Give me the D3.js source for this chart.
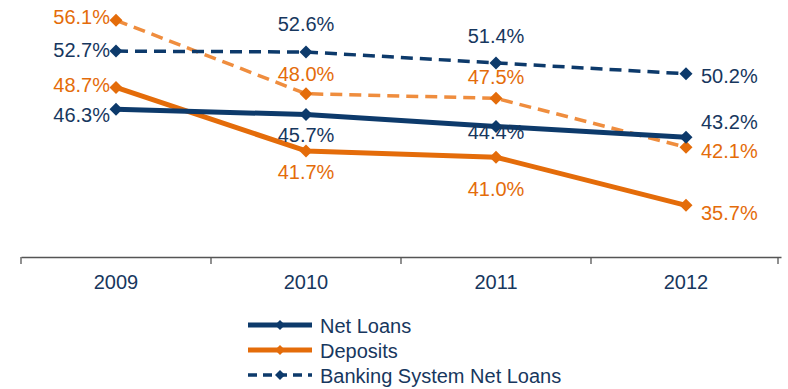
<!DOCTYPE html>
<html>
<head>
<meta charset="utf-8">
<script src="https://cdn.jsdelivr.net/npm/d3@7"></script>
<style>
  html, body { margin: 0; padding: 0; background: #fff; }
  svg { display: block; font-family: "Liberation Sans", Arial, sans-serif; }
</style>
</head>
<body>
<svg id="chart" width="788" height="389"></svg>
<script>
const years = ["2009", "2010", "2011", "2012"];
const netLoans = [46.3, 45.7, 44.4, 43.2];
const deposits = [48.7, 41.7, 41.0, 35.7];
const bankingNetLoans = [52.7, 52.6, 51.4, 50.2];
const bankingDeposits = [56.1, 48.0, 47.5, 42.1];

const NAVY = "#0d3a6b";
const LABEL_NAVY = "#17375e";
const ORANGE = "#e46c0a";
const LIGHT_ORANGE = "#ef8d3e";

// label placement per point: side and vertical nudge
const netLoansPos = [["left", 6], ["below", 20], ["below", 6], ["right", -15]];
const depositsPos = [["left", -2], ["below", 21], ["below", 32], ["right", 8]];
const bankingNetPos = [["left", -1], ["above", -28], ["above", -27], ["right", 2]];
const bankingDepPos = [["left", -3], ["above", -20], ["above", -21], ["right", 4]];

const series = [
  { name: "Banking System Deposits", values: bankingDeposits, color: LIGHT_ORANGE, marker: ORANGE, labelColor: ORANGE, dash: "12,7", width: 3.5, pos: bankingDepPos, legend: false },
  { name: "Banking System Net Loans", values: bankingNetLoans, color: NAVY, marker: NAVY, labelColor: LABEL_NAVY, dash: "12,7", width: 3.5, pos: bankingNetPos, legend: true },
  { name: "Deposits", values: deposits, color: ORANGE, marker: ORANGE, labelColor: ORANGE, dash: null, width: 5, pos: depositsPos, legend: true },
  { name: "Net Loans", values: netLoans, color: NAVY, marker: NAVY, labelColor: LABEL_NAVY, dash: null, width: 5, pos: netLoansPos, legend: true }
];

const svg = d3.select("#chart");
const axisY = 257;

const x = d3.scaleBand().domain(years).range([21, 781]);
const y = d3.scaleLinear().domain([30, 60]).range([axisY, axisY - 30 * 9.07]);
const cx = d => x(d) + x.bandwidth() / 2;

// category axis
const xAxis = d3.axisBottom(x).tickSize(0).tickPadding(18);
const ax = svg.append("g").attr("transform", `translate(0,${axisY})`).call(xAxis);
ax.select(".domain").attr("stroke", "#555").attr("stroke-width", 1.3);
ax.selectAll(".tick text")
  .attr("fill", LABEL_NAVY)
  .style("font-family", "'Liberation Sans', Arial, sans-serif")
  .style("font-size", "20px");
// boundary tick marks between categories
const bounds = years.map(d => x(d)).concat([x.range()[1] - 3]);
svg.append("g").selectAll("line").data(bounds).join("line")
  .attr("x1", d => d).attr("x2", d => d)
  .attr("y1", axisY).attr("y2", axisY + 7)
  .attr("stroke", "#555").attr("stroke-width", 1.3);

// square diamond marker
const diamond = r => `M0,${-r}L${r},0L0,${r}L${-r},0Z`;

const line = d3.line().x((v, i) => cx(years[i])).y(v => y(v));

series.forEach(s => {
  const g = svg.append("g");
  g.append("path")
    .attr("d", line(s.values))
    .attr("fill", "none")
    .attr("stroke", s.color)
    .attr("stroke-width", s.width)
    .attr("stroke-dasharray", s.dash)
    .attr("stroke-linejoin", "round");
  g.selectAll("path.m").data(s.values).join("path")
    .attr("class", "m")
    .attr("d", diamond(6.5))
    .attr("transform", (v, i) => `translate(${cx(years[i])},${y(v)})`)
    .attr("fill", s.marker);
});

// value labels
series.forEach(s => {
  svg.append("g").selectAll("text").data(s.values).join("text")
    .attr("fill", s.labelColor)
    .style("font-size", "20px")
    .attr("dominant-baseline", "central")
    .attr("text-anchor", (v, i) => s.pos[i][0] === "left" ? "end" : s.pos[i][0] === "right" ? "start" : "middle")
    .attr("x", (v, i) => {
      const p = s.pos[i][0], c = cx(years[i]);
      return p === "left" ? c - 6 : p === "right" ? c + 15 : c;
    })
    .attr("y", (v, i) => y(v) + s.pos[i][1])
    .text(v => v.toFixed(1) + "%");
});

// legend
const legendItems = series.filter(s => s.legend).reverse();
const lg = svg.append("g");
legendItems.forEach((s, i) => {
  const ly = 325 + i * 25;
  lg.append("line")
    .attr("x1", 248).attr("x2", 312)
    .attr("y1", ly).attr("y2", ly)
    .attr("stroke", s.color)
    .attr("stroke-width", s.width)
    .attr("stroke-dasharray", s.dash ? "9,6" : null);
  lg.append("path").attr("d", diamond(5)).attr("transform", `translate(280,${ly})`).attr("fill", s.marker);
  lg.append("text")
    .attr("x", 320).attr("y", ly + 1)
    .attr("dominant-baseline", "central")
    .attr("fill", LABEL_NAVY)
    .style("font-size", "20px")
    .text(s.name);
});
</script>
</body>
</html>
